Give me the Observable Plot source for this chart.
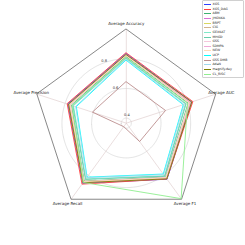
<!DOCTYPE html>
<html><head><meta charset="utf-8">
<script src="https://cdn.jsdelivr.net/npm/d3@7"></script>
<script src="https://cdn.jsdelivr.net/npm/@observablehq/plot@0.6"></script>
<style>
html,body{margin:0;padding:0;background:#fff;}
#wrap{position:relative;width:245px;height:245px;overflow:hidden;font-family:"DejaVu Sans",sans-serif;}
#chart svg{display:block;}
#legend{position:absolute;left:202px;top:0px;width:41.5px;height:77.5px;border:0.6px solid #d0d0d0;border-radius:1px;background:rgba(255,255,255,0.85);box-sizing:border-box;}
.item{position:absolute;left:0;height:4.6px;font-size:3.2px;line-height:4.6px;white-space:nowrap;color:#222;}
.sw{position:absolute;left:1px;top:2px;width:6.5px;height:0.8px;}
.lb{position:absolute;left:9.5px;top:0;}
</style></head>
<body><div id="wrap"><div id="chart"></div><div id="legend"></div></div>
<script>
const metrics = ["Average Accuracy","Average AUC","Average F1","Average Recall","Average Precision"];
const methods = ["XGS","XGS_DAG","ABM","JHGNKA","BRPT","CiG","GEXKAT","MHGD","GSS","SDMPA","NEW","UCP","GSS DMB","AdaN","magnify.dey","CL_RISC"];
const colors = ["#2f3fff","#ff4040","#3cb371","#da70d6","#d8d860","#d2b48c","#80e8c8","#66cdaa","#f4c8dc","#f0a8d8","#ffdab9","#00ffff","#bc8f8f","#9fd8ee","#808000","#90ee90"];
const accuracy  = [0.835,0.840,0.815,0.830,0.825,0.820,0.800,0.805,0.820,0.825,0.822,0.790,0.645,0.795,0.828,0.810];
const auc       = [0.830,0.838,0.805,0.825,0.815,0.820,0.785,0.790,0.810,0.820,0.812,0.770,0.644,0.775,0.830,0.800];
const f1        = [0.833,0.831,0.815,0.828,0.822,0.820,0.805,0.808,0.818,0.826,0.822,0.790,0.519,0.795,0.830,0.995];
const recall    = [0.866,0.874,0.850,0.860,0.855,0.850,0.830,0.835,0.855,0.860,0.855,0.816,0.395,0.820,0.862,0.860];
const precision = [0.780,0.785,0.755,0.775,0.770,0.765,0.740,0.745,0.760,0.770,0.765,0.720,0.604,0.725,0.775,0.750];
const ticks = [0.4,0.6,0.8];

const series = [accuracy, auc, f1, recall, precision];
const points = [];
methods.forEach((m,i) => metrics.forEach((k,j) => points.push({method:m, metric:k, value:series[j][i]})));

const vMin = 0.366, deg = 10;
const lat = v => 90 - (v - vMin) * deg;
const lon = k => 180 - 72 * metrics.indexOf(k);
const R = (1 - vMin) * deg;

const chart = Plot.plot({
  width: 245, height: 245,
  marginLeft: 31.8, marginRight: 25.2, marginTop: 28.7, marginBottom: 28.3,
  style: {fontFamily: "DejaVu Sans, sans-serif", background: "transparent", overflow: "visible"},
  projection: {type: "azimuthal-equidistant", rotate: [0, -90], clip: false, domain: d3.geoCircle().center([0, 90]).radius(R)()},
  color: {domain: methods, range: colors},
  marks: [
    Plot.geo(ticks, {geometry: t => d3.geoCircle().center([0, 90]).radius((t - vMin) * deg).precision(1)(), stroke: "#cfcfcf", fill: "none", strokeWidth: 0.6}),
    Plot.link(metrics, {x1: lon, y1: () => 90, x2: lon, y2: () => lat(1), stroke: "#dcc8c8", strokeWidth: 0.6}),
    Plot.line(metrics, {x: lon, y: () => lat(1), curve: "linear-closed", stroke: "#555", strokeWidth: 0.7}),
    Plot.line(points, {x: d => lon(d.metric), y: d => lat(d.value), z: "method", stroke: "method", curve: "linear-closed", strokeWidth: 0.9}),
    Plot.text(ticks, {x: () => 202.5, y: lat, text: t => t.toFixed(1), dx: 2.5, dy: -3.3, fontSize: 3.6, fill: "#333"}),
    Plot.text(metrics, {x: lon, y: () => lat(1.04), text: d => d, fontSize: 4, fill: "#222"})
  ]
});
document.getElementById("chart").appendChild(chart);

const lg = document.getElementById("legend");
methods.forEach((m,i) => {
  const it = document.createElement("div");
  it.className = "item";
  it.style.top = (1.1 + i * 4.63) + "px";
  it.innerHTML = `<div class="sw" style="background:${colors[i]}"></div><div class="lb">${m}</div>`;
  lg.appendChild(it);
});
</script></body></html>
